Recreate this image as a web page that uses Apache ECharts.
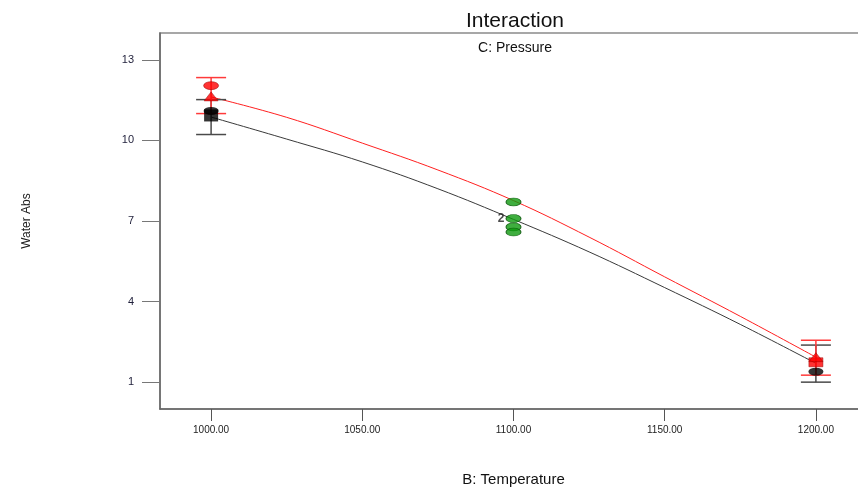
<!DOCTYPE html>
<html>
<head>
<meta charset="utf-8">
<script src="https://cdn.jsdelivr.net/npm/echarts@6/dist/echarts.min.js"></script>
<style>
  html, body { margin: 0; padding: 0; background: #fff; overflow: hidden; }
  #chart { width: 858px; height: 489px; }
</style>
</head>
<body>
<div id="chart"></div>
<script>
// Temperature levels and the fitted model curves for the two pressure levels
const temps = [1000, 1025, 1050, 1075, 1100, 1125, 1150, 1175, 1200];
const fitHighPressure = [11.62, 10.86, 9.90, 8.90, 7.76, 6.40, 4.92, 3.45, 1.93];
const fitLowPressure = [10.87, 10.05, 9.20, 8.20, 7.06, 5.85, 4.52, 3.15, 1.70];

// Least-significant-difference bars at the end levels: [temperature, low, high]
const barsHigh = [[1000, 11.00, 12.34], [1200, 1.26, 2.56]];
const barsLow = [[1000, 10.22, 11.52], [1200, 1.00, 2.38]];

// Design points
const redEllipse = [[1000, 12.04]];
const redTriangle = [[1000, 11.64], [1200, 1.93]];
const redSquare = [[1200, 1.74]];
const blackEllipse = [[1000, 11.10], [1200, 1.39]];
const blackSquare = [[1000, 10.93]];
const centerPoints = [[1100, 7.71], [1100, 7.09], [1100, 6.78], [1100, 6.59]];
const centerLabel = [[1100, 7.09, '2']];

const xTicks = [1000, 1050, 1100, 1150, 1200];
const yTicks = [1, 4, 7, 10, 13];

const FONT = 'Liberation Sans, Arial, sans-serif';

function pairs(xs, ys) { return xs.map((x, i) => [x, ys[i]]); }

function errorBar(color) {
  return function (params, api) {
    const top = api.coord([api.value(0), api.value(2)]);
    const bot = api.coord([api.value(0), api.value(1)]);
    const half = 15;
    const style = { stroke: color, lineWidth: 1.5 };
    return {
      type: 'group',
      children: [
        { type: 'line', shape: { x1: top[0], y1: top[1], x2: bot[0], y2: bot[1] }, style },
        { type: 'line', shape: { x1: top[0] - half, y1: top[1], x2: top[0] + half, y2: top[1] }, style },
        { type: 'line', shape: { x1: bot[0] - half, y1: bot[1], x2: bot[0] + half, y2: bot[1] }, style }
      ]
    };
  };
}

const chart = echarts.init(document.getElementById('chart'));
chart.setOption({
  animation: false,
  backgroundColor: '#fff',
  title: [
    { text: 'Interaction', left: 510, top: 6, textAlign: 'center',
      textStyle: { fontFamily: FONT, fontSize: 21, fontWeight: 'normal', color: '#111' } },
    { text: 'C: Pressure', left: 510, top: 36, textAlign: 'center',
      textStyle: { fontFamily: FONT, fontSize: 14, fontWeight: 'normal', color: '#111' } }
  ],
  grid: { left: 160, top: 33, right: -9, bottom: 80, containLabel: false, outerBoundsMode: 'none',
    show: true, borderColor: '#8a8a8a', borderWidth: 1.5 },
  xAxis: {
    type: 'value', min: 983.1, max: 1216.9,
    name: 'B: Temperature', nameLocation: 'middle', nameGap: 63,
    nameTextStyle: { fontFamily: FONT, fontSize: 15, color: '#111' },
    axisLine: { show: true, lineStyle: { color: '#666', width: 1.5 } },
    axisTick: { show: true, inside: false, length: 12, customValues: xTicks, lineStyle: { color: '#555' } },
    axisLabel: { customValues: xTicks, margin: 16, fontFamily: FONT, fontSize: 10, color: '#222',
      formatter: v => v.toFixed(2) },
    splitLine: { show: false }
  },
  yAxis: {
    type: 'value', min: 0, max: 14,
    name: 'Water Abs', nameLocation: 'middle', nameGap: 127, nameRotate: 90,
    nameTextStyle: { fontFamily: FONT, fontSize: 12, color: '#222' },
    axisLine: { show: true, lineStyle: { color: '#666', width: 1.5 } },
    axisTick: { show: true, inside: false, length: 18, customValues: yTicks, lineStyle: { color: '#777' } },
    axisLabel: { customValues: yTicks, margin: 26, fontFamily: FONT, fontSize: 11, color: '#1f1f3a' },
    splitLine: { show: false }
  },
  series: [
    { type: 'line', data: pairs(temps, fitLowPressure), smooth: 0.4, symbol: 'none',
      lineStyle: { color: '#3a3a3a', width: 1 }, z: 2 },
    { type: 'line', data: pairs(temps, fitHighPressure), smooth: 0.4, symbol: 'none',
      lineStyle: { color: '#ff2020', width: 1 }, z: 2 },
    { type: 'custom', data: barsLow, renderItem: errorBar('#4a4a4a'), z: 3 },
    { type: 'custom', data: barsHigh, renderItem: errorBar('#ff3a3a'), z: 3 },
    { type: 'scatter', data: blackEllipse, symbol: 'circle', symbolSize: [15, 8],
      itemStyle: { color: '#000' }, z: 4 },
    { type: 'scatter', data: blackSquare, symbol: 'rect', symbolSize: [14, 12],
      itemStyle: { color: '#000' }, z: 4 },
    { type: 'scatter', data: redSquare, symbol: 'rect', symbolSize: [14, 9],
      itemStyle: { color: '#ff0000', borderColor: '#900', borderWidth: 0.6 }, z: 5 },
    { type: 'scatter', data: redTriangle, symbol: 'triangle', symbolSize: [14, 9],
      itemStyle: { color: '#ff0000', borderColor: '#900', borderWidth: 0.6 }, z: 5 },
    { type: 'scatter', data: redEllipse, symbol: 'circle', symbolSize: [15, 8],
      itemStyle: { color: '#ff0000', borderColor: '#900', borderWidth: 0.6 }, z: 5 },
    { type: 'scatter', data: centerPoints, symbol: 'circle', symbolSize: [15, 8],
      itemStyle: { color: '#0f9a0f', borderColor: '#065006', borderWidth: 0.8 }, z: 5 },
    { type: 'scatter', data: centerLabel, symbolSize: 0,
      label: { show: true, position: 'left', distance: 9, formatter: p => p.value[2],
        fontFamily: FONT, fontSize: 12, fontWeight: 'bold', color: '#222' }, z: 6 }
  ]
});
</script>
</body>
</html>
